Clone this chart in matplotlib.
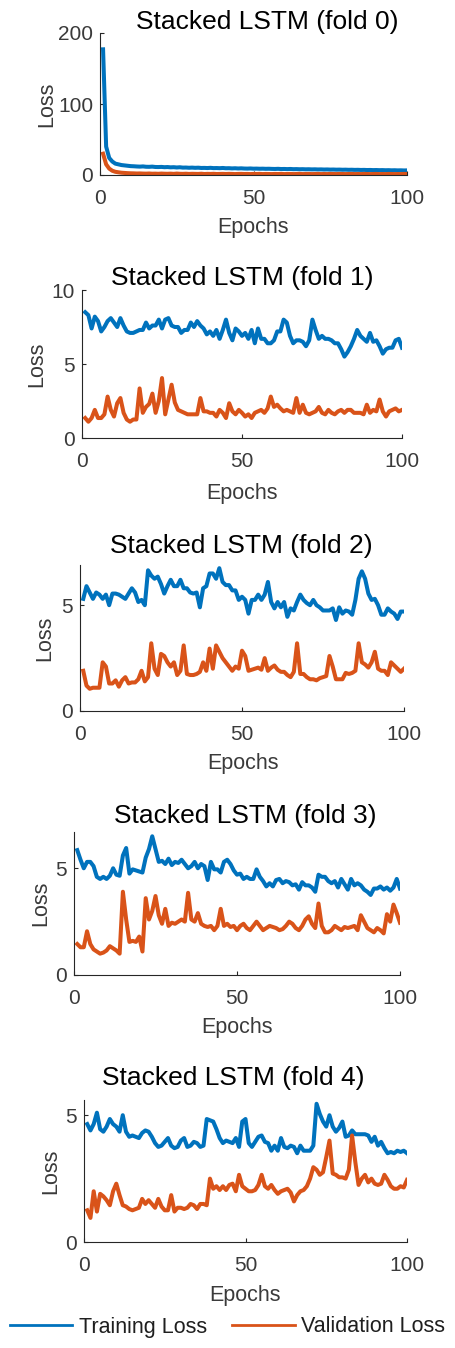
import matplotlib
matplotlib.use("Agg")
import matplotlib.pyplot as plt
from matplotlib.lines import Line2D

plt.rcParams['font.family'] = ['Liberation Sans', 'DejaVu Sans']

epochs = list(range(1, 101))

train_f0 = [177, 40, 24, 19, 16, 15, 14, 13.5, 13, 12.5,
            12.3, 12.0, 11.8, 12.1, 11.6, 11.5, 11.8, 11.3, 11.2, 11.4,
            11.0, 11.2, 10.8, 11.0, 10.6, 10.9, 10.4, 10.5, 10.2, 10.4,
            10.1, 10.3, 9.9, 10.0, 9.8, 10.1, 9.7, 9.8, 9.6, 9.9,
            9.5, 9.6, 9.3, 9.5, 9.2, 9.4, 9.1, 9.0, 9.2, 8.9,
            9.0, 8.8, 8.9, 8.7, 8.8, 8.6, 8.5, 8.7, 8.4, 8.5,
            8.3, 8.5, 8.2, 8.3, 8.1, 8.2, 8.0, 8.1, 7.9, 8.0,
            7.8, 7.9, 7.7, 7.8, 7.6, 7.7, 7.5, 7.6, 7.4, 7.5,
            7.3, 7.4, 7.2, 7.3, 7.1, 7.2, 7.0, 7.1, 6.9, 7.0,
            6.8, 6.9, 6.7, 6.8, 6.6, 6.7, 6.5, 6.6, 6.4, 6.5]
val_f0 = [30, 15, 9, 6, 4.5, 3.8, 3.2, 2.9, 2.6, 2.4,
          2.3, 2.1, 2.2, 2.0, 1.9, 2.1, 1.8, 1.9, 1.7, 2.0,
          1.8, 1.7, 1.9, 1.6, 2.0, 1.7, 1.6, 1.8, 1.5, 1.7,
          1.6, 1.5, 1.8, 1.4, 1.6, 1.5, 1.7, 1.4, 1.5, 1.6,
          1.4, 1.6, 1.5, 1.3, 1.5, 1.6, 1.4, 1.5, 1.3, 1.5,
          1.4, 1.6, 1.3, 1.5, 1.4, 1.3, 1.5, 1.4, 1.6, 1.3,
          1.4, 1.5, 1.3, 1.4, 1.6, 1.3, 1.4, 1.5, 1.3, 1.4,
          1.5, 1.3, 1.4, 1.3, 1.5, 1.4, 1.3, 1.5, 1.4, 1.3,
          1.4, 1.5, 1.3, 1.4, 1.3, 1.5, 1.4, 1.3, 1.4, 1.5,
          1.3, 1.4, 1.3, 1.5, 1.4, 1.3, 1.4, 1.3, 1.5, 1.4]

train_f1 = [8.5, 8.3, 7.4, 8.2, 7.9, 7.2, 7.5, 7.9, 8.1, 7.8,
            7.5, 8.1, 7.6, 7.2, 7.1, 7.1, 7.2, 7.3, 7.3, 7.8,
            7.4, 7.6, 7.6, 8.0, 7.4, 8.0, 8.1, 7.6, 7.5, 7.5,
            7.1, 7.3, 7.3, 7.8, 7.5, 7.9, 7.6, 7.4, 7.0, 7.2,
            6.9, 7.3, 6.7, 7.3, 8.0, 7.1, 6.6, 7.4, 7.2, 6.9,
            7.1, 6.7, 7.3, 6.4, 7.4, 6.7, 6.7, 6.4, 6.4, 6.6,
            7.2, 7.2, 8.0, 7.8, 6.9, 6.4, 6.6, 6.6, 6.5, 6.2,
            6.6, 8.0, 7.3, 6.7, 6.9, 6.7, 6.7, 6.6, 6.4, 6.4,
            6.0, 5.5, 5.8, 6.2, 6.7, 7.3, 6.9, 6.7, 6.5, 7.1,
            6.5, 6.6, 6.2, 5.7, 6.0, 6.1, 6.1, 6.6, 6.7, 6.1]
val_f1 = [1.35, 1.1, 1.35, 1.9, 1.35, 1.35, 1.6, 2.8, 1.9, 1.45,
          2.35, 2.7, 1.7, 1.25, 1.1, 1.25, 1.25, 3.35, 1.7, 2.1,
          2.3, 3.0, 1.7, 2.5, 4.05, 1.6, 2.6, 3.6, 2.4, 1.9,
          1.8, 1.7, 1.6, 1.6, 1.6, 1.6, 2.7, 1.8, 1.8, 1.7,
          1.7, 1.45, 1.9, 1.7, 1.35, 2.35, 1.8, 1.6, 1.9, 1.7,
          1.45, 1.6, 1.35, 1.7, 1.8, 1.9, 1.7, 2.0, 2.8, 2.1,
          2.25, 2.0, 1.8, 1.9, 1.8, 1.7, 2.7, 1.7, 2.25, 1.7,
          1.6, 1.7, 1.8, 2.1, 1.7, 1.6, 1.9, 1.7, 1.6, 1.8,
          1.9, 1.7, 1.9, 1.9, 1.7, 1.7, 1.7, 1.6, 2.25, 1.7,
          1.9, 1.8, 2.6, 1.8, 1.45, 1.8, 1.9, 2.0, 1.8, 1.9]

train_f2 = [5.3, 5.9, 5.6, 5.3, 5.6, 5.5, 5.3, 5.5, 5.0, 5.55,
            5.55, 5.5, 5.4, 5.3, 5.55, 5.8, 5.6, 5.15, 5.25, 5.0,
            6.65, 6.4, 6.25, 6.35, 6.0, 5.55, 5.9, 6.2, 5.9, 5.9,
            6.2, 5.8, 5.8, 5.6, 5.55, 5.6, 4.9, 5.8, 5.9, 6.5,
            6.5, 6.25, 6.75, 6.1, 5.95, 5.95, 5.7, 5.7, 5.25, 5.4,
            5.25, 4.6, 5.25, 5.25, 5.5, 5.25, 5.5, 6.1, 5.15, 4.85,
            5.15, 4.9, 5.15, 4.45, 4.85, 4.75, 5.15, 5.5, 5.25, 5.1,
            5.0, 5.25, 5.0, 4.9, 4.75, 4.75, 4.75, 4.85, 4.3, 4.9,
            4.6, 4.75, 4.7, 4.55, 5.25, 6.25, 6.6, 6.25, 5.55, 5.25,
            5.3, 5.0, 4.55, 4.55, 4.85, 4.7, 4.6, 4.35, 4.7, 4.7]
val_f2 = [1.9, 1.2, 1.05, 1.1, 1.1, 1.1, 2.3, 2.1, 1.3, 1.3,
          1.45, 1.15, 1.45, 1.6, 1.3, 1.35, 1.35, 1.5, 1.9, 1.4,
          1.6, 3.2, 2.0, 1.7, 2.7, 2.6, 2.3, 2.1, 2.3, 1.7,
          1.9, 3.1, 1.75, 1.7, 1.7, 1.75, 1.85, 2.3, 1.9, 2.95,
          2.0, 3.1, 2.8, 2.5, 2.3, 2.1, 1.9, 2.1, 2.0, 2.85,
          2.6, 1.9, 1.95, 2.0, 2.05, 1.95, 2.5, 1.9, 2.05, 2.15,
          1.95, 1.85, 1.85, 1.7, 1.6, 1.85, 3.2, 1.75, 1.75, 1.6,
          1.5, 1.5, 1.45, 1.55, 1.6, 1.65, 2.6, 2.1, 1.5, 1.5,
          1.5, 1.8, 1.75, 1.8, 1.9, 3.2, 2.3, 2.2, 2.05, 2.3,
          2.8, 2.0, 1.9, 1.9, 1.7, 2.3, 2.15, 2.0, 1.85, 2.0]

train_f3 = [5.85, 5.4, 5.0, 5.3, 5.3, 5.1, 4.6, 4.5, 4.6, 4.5,
            4.65, 5.0, 4.7, 4.65, 5.6, 5.95, 4.75, 4.95, 4.9, 4.85,
            4.8, 5.5, 5.9, 6.5, 5.9, 5.3, 5.35, 5.2, 5.45, 5.15,
            5.3, 5.25, 5.4, 5.2, 5.0, 5.1, 5.3, 5.0, 5.2, 5.1,
            4.45, 5.3, 4.95, 4.95, 4.8, 5.3, 5.4, 5.2, 4.9, 4.7,
            4.75, 4.5, 4.6, 4.5, 4.5, 4.95, 4.6, 4.4, 4.15, 4.3,
            4.15, 4.45, 4.5, 4.3, 4.4, 4.35, 4.2, 4.25, 4.0, 4.35,
            4.2, 4.2, 4.1, 3.9, 4.7, 4.6, 4.6, 4.4, 4.3, 4.4,
            4.1, 4.5, 4.25, 4.0, 4.5, 4.2, 4.3, 4.2, 4.0, 3.9,
            3.75, 4.05, 4.05, 4.15, 4.0, 4.1, 3.95, 4.1, 4.5, 4.05]
val_f3 = [1.45, 1.3, 1.3, 2.05, 1.45, 1.2, 1.1, 1.0, 1.05, 1.15,
          1.35, 1.25, 1.15, 1.0, 3.9, 2.6, 1.55, 1.6, 1.55, 1.8,
          1.1, 3.6, 2.6, 3.0, 3.7, 2.8, 2.4, 3.1, 2.3, 2.45,
          2.4, 2.5, 2.6, 2.5, 3.85, 2.6, 2.5, 2.9, 2.4, 2.3,
          2.25, 2.3, 2.1, 2.3, 3.1, 2.3, 2.4, 2.25, 2.3, 2.1,
          2.3, 2.4, 2.2, 2.1, 2.3, 2.5, 2.3, 2.1, 2.2, 2.3,
          2.25, 2.2, 2.1, 2.15, 2.3, 2.5, 2.4, 2.2, 2.1, 2.3,
          2.6, 2.75, 2.4, 2.2, 3.35, 2.3, 2.0, 2.0, 2.1, 2.3,
          2.2, 2.1, 2.25, 2.2, 2.25, 2.3, 2.1, 2.8, 2.5, 2.2,
          2.1, 2.0, 2.2, 2.1, 1.95, 2.85, 2.5, 3.3, 2.9, 2.45]

train_f4 = [4.65, 4.4, 4.65, 5.1, 4.45, 4.35, 4.55, 4.85, 4.65, 4.55,
            4.35, 5.0, 4.35, 4.15, 4.2, 4.15, 4.1, 4.3, 4.4, 4.35,
            4.15, 3.9, 3.75, 3.8, 3.95, 4.1, 3.8, 3.7, 3.75, 4.0,
            4.1, 3.75, 3.8, 3.95, 3.9, 3.75, 3.8, 4.85, 4.8, 4.75,
            4.45, 4.1, 3.9, 4.0, 3.95, 3.9, 4.1, 3.75, 4.75, 4.85,
            3.9, 3.75, 3.95, 4.15, 4.2, 3.95, 3.9, 3.6, 3.8, 3.6,
            4.1, 3.75, 3.7, 3.8, 3.75, 3.5, 3.8, 3.6, 3.6, 3.6,
            3.8, 5.45, 5.05, 4.75, 4.55, 5.0, 4.55, 4.35, 4.5, 4.75,
            4.15, 4.2, 4.4, 4.25, 4.25, 4.25, 4.25, 4.2, 3.95, 4.15,
            3.8, 3.95, 3.7, 3.5, 3.55, 3.5, 3.6, 3.55, 3.6, 3.5]
val_f4 = [1.25, 0.95, 2.0, 1.2, 1.9, 1.8, 1.65, 1.45, 2.0, 2.3,
          1.85, 1.45, 1.4, 1.3, 1.25, 1.3, 1.35, 1.7, 1.5, 1.65,
          1.5, 1.35, 1.7, 1.4, 1.25, 1.25, 1.85, 1.2, 1.35, 1.35,
          1.3, 1.35, 1.5, 1.45, 1.3, 1.5, 1.5, 1.45, 2.5, 2.1,
          2.2, 2.05, 2.2, 2.05, 2.25, 2.3, 2.0, 2.65, 2.2, 2.1,
          2.0, 2.0, 2.05, 2.25, 2.65, 2.2, 2.1, 2.25, 2.05, 1.9,
          2.0, 2.05, 2.1, 1.95, 1.6, 1.85, 2.0, 2.05, 2.2, 2.5,
          2.95, 2.85, 2.65, 2.75, 3.35, 4.0, 2.7, 2.65, 2.55, 2.55,
          2.5, 2.85, 4.2, 3.15, 2.25, 2.5, 2.65, 2.35, 2.5, 2.3,
          2.25, 2.3, 2.65, 2.45, 2.2, 2.1, 2.1, 2.2, 2.15, 2.45]

titles = ["Stacked LSTM (fold 0)", "Stacked LSTM (fold 1)", "Stacked LSTM (fold 2)",
          "Stacked LSTM (fold 3)", "Stacked LSTM (fold 4)"]
train_series = [train_f0, train_f1, train_f2, train_f3, train_f4]
val_series = [val_f0, val_f1, val_f2, val_f3, val_f4]
y_limits = [200, 10, 6.9, 6.7, 5.6]
y_ticks = [[0, 100, 200], [0, 5, 10], [0, 5], [0, 5], [0, 5]]
x_ticks = [0, 50, 100]
legend_labels = ["Training Loss", "Validation Loss"]

W, H = 455, 1348
BLUE = "#0072BD"
ORANGE = "#D95319"
GREY = "#3a3a3a"

# pixel layout: (left, right, top, bottom), title center (x, y), Loss x, Epochs (x, y)
boxes = [(100, 407, 33, 175), (82, 402, 290, 438), (80, 404, 565, 711),
         (74, 400, 832, 975), (84, 407, 1100, 1242)]
title_pos = [(267, 22), (242, 278), (241, 546), (245, 816), (233, 1078)]
loss_x = [47, 37, 45, 41, 51]
epochs_pos = [(253, 228), (242, 494), (243, 764), (237, 1028), (245, 1296)]

fig = plt.figure(figsize=(W / 100, H / 100), dpi=100)

def fx(x):
    return x / W

def fy(y):
    return 1 - y / H

for i in range(5):
    l, r, t, b = boxes[i]
    ax = fig.add_axes([fx(l), fy(b), (r - l) / W, (b - t) / H])
    ax.plot(epochs, train_series[i], color=BLUE, lw=2.9, solid_joinstyle='round')
    ax.plot(epochs, val_series[i], color=ORANGE, lw=2.9, solid_joinstyle='round')
    ax.set_xlim(0, 100)
    ax.set_ylim(0, y_limits[i])
    ax.set_xticks(x_ticks)
    ax.set_yticks(y_ticks[i])
    ax.spines['top'].set_visible(False)
    ax.spines['right'].set_visible(False)
    for s in ('left', 'bottom'):
        ax.spines[s].set_color('#262626')
        ax.spines[s].set_linewidth(0.8)
    ax.tick_params(direction='in', length=3, width=0.8, colors='#262626',
                   labelsize=15, labelcolor=GREY)
    ax.tick_params(axis='x', pad=10)
    ax.tick_params(axis='y', pad=5)
    fig.text(fx(title_pos[i][0]), fy(title_pos[i][1]), titles[i], ha='center', va='center',
             fontsize=19, color='black')
    fig.text(fx(loss_x[i]), fy((t + b) / 2), "Loss", rotation=90, ha='center', va='center',
             fontsize=15.5, color=GREY)
    fig.text(fx(epochs_pos[i][0]), fy(epochs_pos[i][1]), "Epochs", ha='center', va='center',
             fontsize=15.5, color=GREY)

handles = [Line2D([], [], color=BLUE, lw=2.0), Line2D([], [], color=ORANGE, lw=2.0)]
leg = fig.legend(handles, legend_labels, loc='center', bbox_to_anchor=(0.5, fy(1327)), ncol=2,
                 frameon=False, fontsize=15.5, handlelength=2.9, handletextpad=0.3,
                 columnspacing=1.2, labelcolor='#1f1f1f', borderpad=0, borderaxespad=0)

fig.savefig("out.png", dpi=100)
